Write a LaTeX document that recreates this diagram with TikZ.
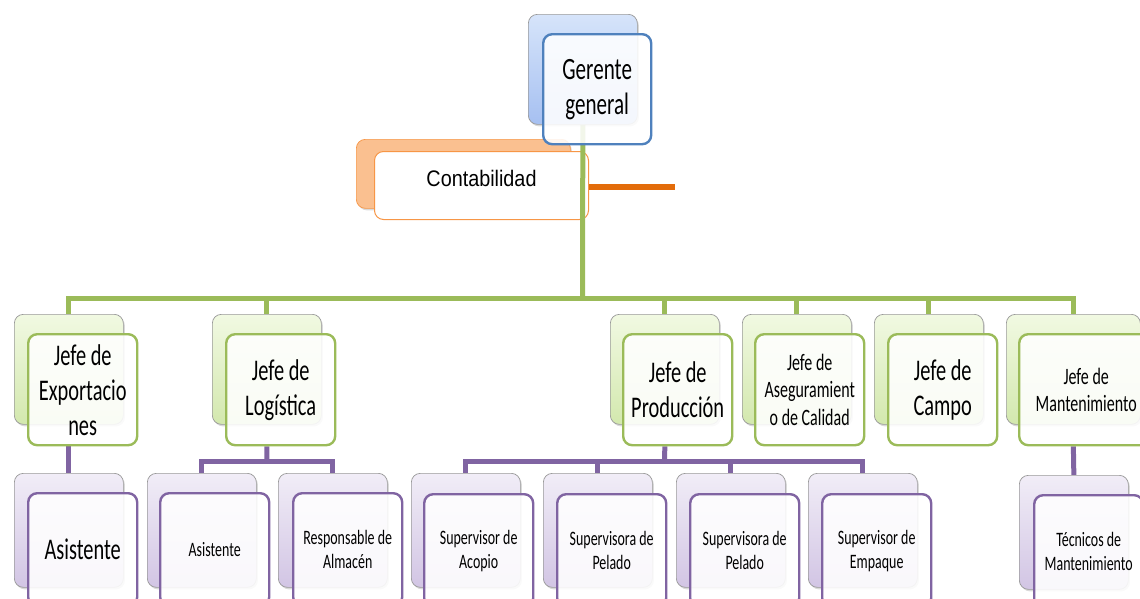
\documentclass[tikz,border=0pt]{standalone}
\usepackage{fontspec}
\newfontfamily\calf[FakeStretch=0.68]{Carlito}
\newfontfamily\arialf[FakeStretch=0.88]{Liberation Sans}
\usetikzlibrary{shadows}
\pgfdeclarelayer{bg}
\pgfsetlayers{bg,main}
\definecolor{gline}{HTML}{9BBB59}
\definecolor{pline}{HTML}{8064A2}
\definecolor{bline}{HTML}{4F81BD}
\definecolor{oline}{HTML}{E36C0A}
\definecolor{oborder}{HTML}{F79646}
\definecolor{ofill}{HTML}{FAC090}
\definecolor{gtop}{HTML}{F1F9E2}
\definecolor{gbot}{HTML}{D3E8AE}
\definecolor{ptop}{HTML}{F1EDF7}
\definecolor{pbot}{HTML}{D2C5E4}
\definecolor{btop}{HTML}{D6E4FA}
\definecolor{bbot}{HTML}{A6C0F1}
\tikzset{
  bkbox/.style={draw=black!40, line width=0.7pt, rounded corners=9pt, anchor=north west, inner sep=0pt,
    drop shadow={shadow xshift=1.5pt,shadow yshift=-2pt,opacity=0.3}},
  gbk/.style={bkbox, top color=gtop, bottom color=gbot, minimum width=109pt, minimum height=110pt},
  pbk/.style={bkbox, top color=ptop, bottom color=pbot, minimum width=109pt, minimum height=114pt},
  frbox/.style={rounded corners=9pt, anchor=north west, inner sep=0pt, fill=white, fill opacity=0.88,
    text opacity=1, line width=2.4pt, align=center, font=\calf},
  gfr/.style={frbox, draw=gline, minimum width=109pt, minimum height=111pt},
  pfr/.style={frbox, draw=pline, minimum width=109pt, minimum height=113pt},
  gcon/.style={draw=gline, line width=5pt, line join=miter},
  pcon/.style={draw=pline, line width=5pt, line join=miter},
  big/.style={font=\calf\fontsize{30}{35}\selectfont},
  mid/.style={font=\calf\fontsize{23.5}{27.5}\selectfont},
  small/.style={font=\calf\fontsize{20.5}{24}\selectfont},
}
\begin{document}
\begin{tikzpicture}[x=1pt,y=-1pt]
\useasboundingbox (0,0) rectangle (1140,598);
% Gerente general
\node[bkbox, top color=btop, bottom color=bbot, minimum width=109pt, minimum height=110pt] (bger) at (528,14) {};
\node[frbox, draw=bline, minimum width=108pt, minimum height=110pt, font=\calf\fontsize{31}{35}\selectfont] (ger) at (542,33) {Gerente\\general};
% Level 2
\node[gbk] (bexp) at (14,314) {};
\node[gfr, big] (exp) at (27,333) {Jefe de\\Exportacio\\nes};
\node[gbk] (blog) at (212,314) {};
\node[gfr, big] (log) at (225,333) {Jefe de\\Log\'istica};
\node[gbk] (bprod) at (610,314) {};
\node[gfr, big] (prod) at (622,333) {Jefe de\\Producci\'on};
\node[gbk] (base) at (742,314) {};
\node[gfr, mid] (ase) at (754,333) {Jefe de\\Aseguramient\\o de Calidad};
\node[gbk] (bcam) at (874,314) {};
\node[gfr, big] (cam) at (887,333) {Jefe de\\Campo};
\node[gbk, minimum width=134pt] (bman) at (1006,314) {};
\node[gfr, mid, minimum width=134pt] (man) at (1018,333) {Jefe de\\Mantenimiento};
% Level 3
\node[pbk] (bas1) at (14,473) {};
\node[pfr, big] (as1) at (27,492) {Asistente};
\node[pbk] (bas2) at (147,473) {};
\node[pfr, small] (as2) at (159,492) {Asistente};
\node[pbk] (bres) at (278,473) {};
\node[pfr, small] (res) at (292,492) {Responsable de\\Almac\'en};
\node[pbk] (baco) at (411,473) {};
\node[pfr, small] (aco) at (423,493) {Supervisor de\\Acopio};
\node[pbk] (bpe1) at (543,473) {};
\node[pfr, small] (pe1) at (556,493) {Supervisora de\\Pelado};
\node[pbk] (bpe2) at (676,473) {};
\node[pfr, small] (pe2) at (689,493) {Supervisora de\\Pelado};
\node[pbk] (bemp) at (808,473) {};
\node[pfr, small] (emp) at (821,493) {Supervisor de\\Empaque};
\node[pbk] (btec) at (1019,475) {};
\node[pfr, small] (tec) at (1033,494) {T\'ecnicos de\\Mantenimiento};
\begin{pgfonlayer}{bg}
  % Contabilidad
  \node[bkbox, fill=ofill, draw=oborder, drop shadow={opacity=0}, minimum width=214pt, minimum height=69pt] (bcon) at (356,139) {};
  \node[frbox, draw=oborder, fill opacity=1, line width=1pt, minimum width=214pt, minimum height=68pt, font=\arialf\fontsize{22.5}{26}\selectfont] (con) at (374,151) {\raisebox{14pt}{Contabilidad}};
  \coordinate (oend) at (675,187);
  \draw[draw=oline, line width=6pt] (con.east |- oend) -- (oend);
  % green connectors
  \coordinate (gj) at (582.5,298);
  \draw[gcon] (bger.south) -- (gj);
  \draw[gcon] (bexp.north) |- (gj) -| (bman.north);
  \foreach \n in {blog,bprod,base,bcam} \draw[gcon] (\n.north) -- (\n.north |- gj);
  % purple connectors
  \draw[pcon] (bexp.center |- exp.south) -- (bas1.north);
  \coordinate (lj) at (267,461);
  \draw[pcon] (blog.center |- log.south) -- (lj);
  \draw[pcon] (bas2.north) |- (lj) -| (bres.north);
  \coordinate (pj) at (664.5,461);
  \draw[pcon] (bprod.center |- prod.south) -- (pj);
  \draw[pcon] (baco.north) |- (pj) -| (bemp.north);
  \foreach \n in {bpe1,bpe2} \draw[pcon] (\n.north) -- (\n.north |- pj);
  \draw[pcon] (bman.center |- man.south) -- (btec.north);
\end{pgfonlayer}
\end{tikzpicture}
\end{document}
